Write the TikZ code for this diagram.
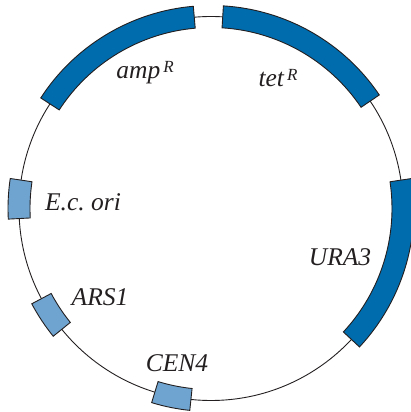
\documentclass[tikz,border=0pt]{standalone}
\usepackage{fontspec}
\setmainfont{Liberation Serif}
\definecolor{inkgray}{HTML}{231F20}
\definecolor{genedark}{HTML}{006CAE}
\definecolor{genelight}{HTML}{6FA4D0}
\tikzset{
    backbone/.style={draw=inkgray, line width=0.9pt},
    darkgene/.style={draw=inkgray, fill=genedark, line width=0.9pt, line join=miter},
    lightgene/.style={draw=inkgray, fill=genelight, line width=0.9pt, line join=miter},
    genelabel/.style={text=inkgray, font=\fontsize{25.5}{25.5}\selectfont\itshape, inner sep=0pt}
}
\newcommand{\resmark}{\kern3pt\raisebox{0.24em}{\fontsize{17}{17}\selectfont R}}
\begin{document}
\begin{tikzpicture}[x=1pt, y=1pt]
    \useasboundingbox (0,0) rectangle (411,412);

    % Centre of the plasmid
    \coordinate (O) at (211,203.5);

    \begin{scope}[shift={(O)}]
        % Plasmid backbone
        \draw[backbone] (0,0) circle[radius=192pt];

        % Resistance genes and URA3 (dark boxes)
        \filldraw[darkgene] (95:203pt) arc[start angle=95, end angle=147, radius=203pt]
            -- (147:181pt) arc[start angle=147, end angle=95, radius=181pt] -- cycle;
        \filldraw[darkgene] (86.5:203pt) arc[start angle=86.5, end angle=34, radius=203pt]
            -- (34:181pt) arc[start angle=34, end angle=86.5, radius=181pt] -- cycle;
        \filldraw[darkgene] (8.5:203pt) arc[start angle=8.5, end angle=-43, radius=203pt]
            -- (-43:181pt) arc[start angle=-43, end angle=8.5, radius=181pt] -- cycle;

        % Origin, ARS and centromere (light boxes)
        \filldraw[lightgene] (171.5:203pt) arc[start angle=171.5, end angle=183, radius=203pt]
            -- (183:181pt) arc[start angle=183, end angle=171.5, radius=181pt] -- cycle;
        \filldraw[lightgene] (208:203pt) arc[start angle=208, end angle=219, radius=203pt]
            -- (219:181pt) arc[start angle=219, end angle=208, radius=181pt] -- cycle;
        \filldraw[lightgene] (253:203pt) arc[start angle=253, end angle=264, radius=203pt]
            -- (264:181pt) arc[start angle=264, end angle=253, radius=181pt] -- cycle;
    \end{scope}

    % Gene names
    \node[genelabel] (amp) at (145,339) {amp\resmark};
    \node[genelabel] (tet) at (278,334) {tet\resmark};
    \node[genelabel] (ori) at (83,210) {E.c.\ ori};
    \node[genelabel] (ura) at (340,155) {URA3};
    \node[genelabel] (ars) at (100,115) {ARS1};
    \node[genelabel] (cen) at (177,49) {CEN4};
\end{tikzpicture}
\end{document}
